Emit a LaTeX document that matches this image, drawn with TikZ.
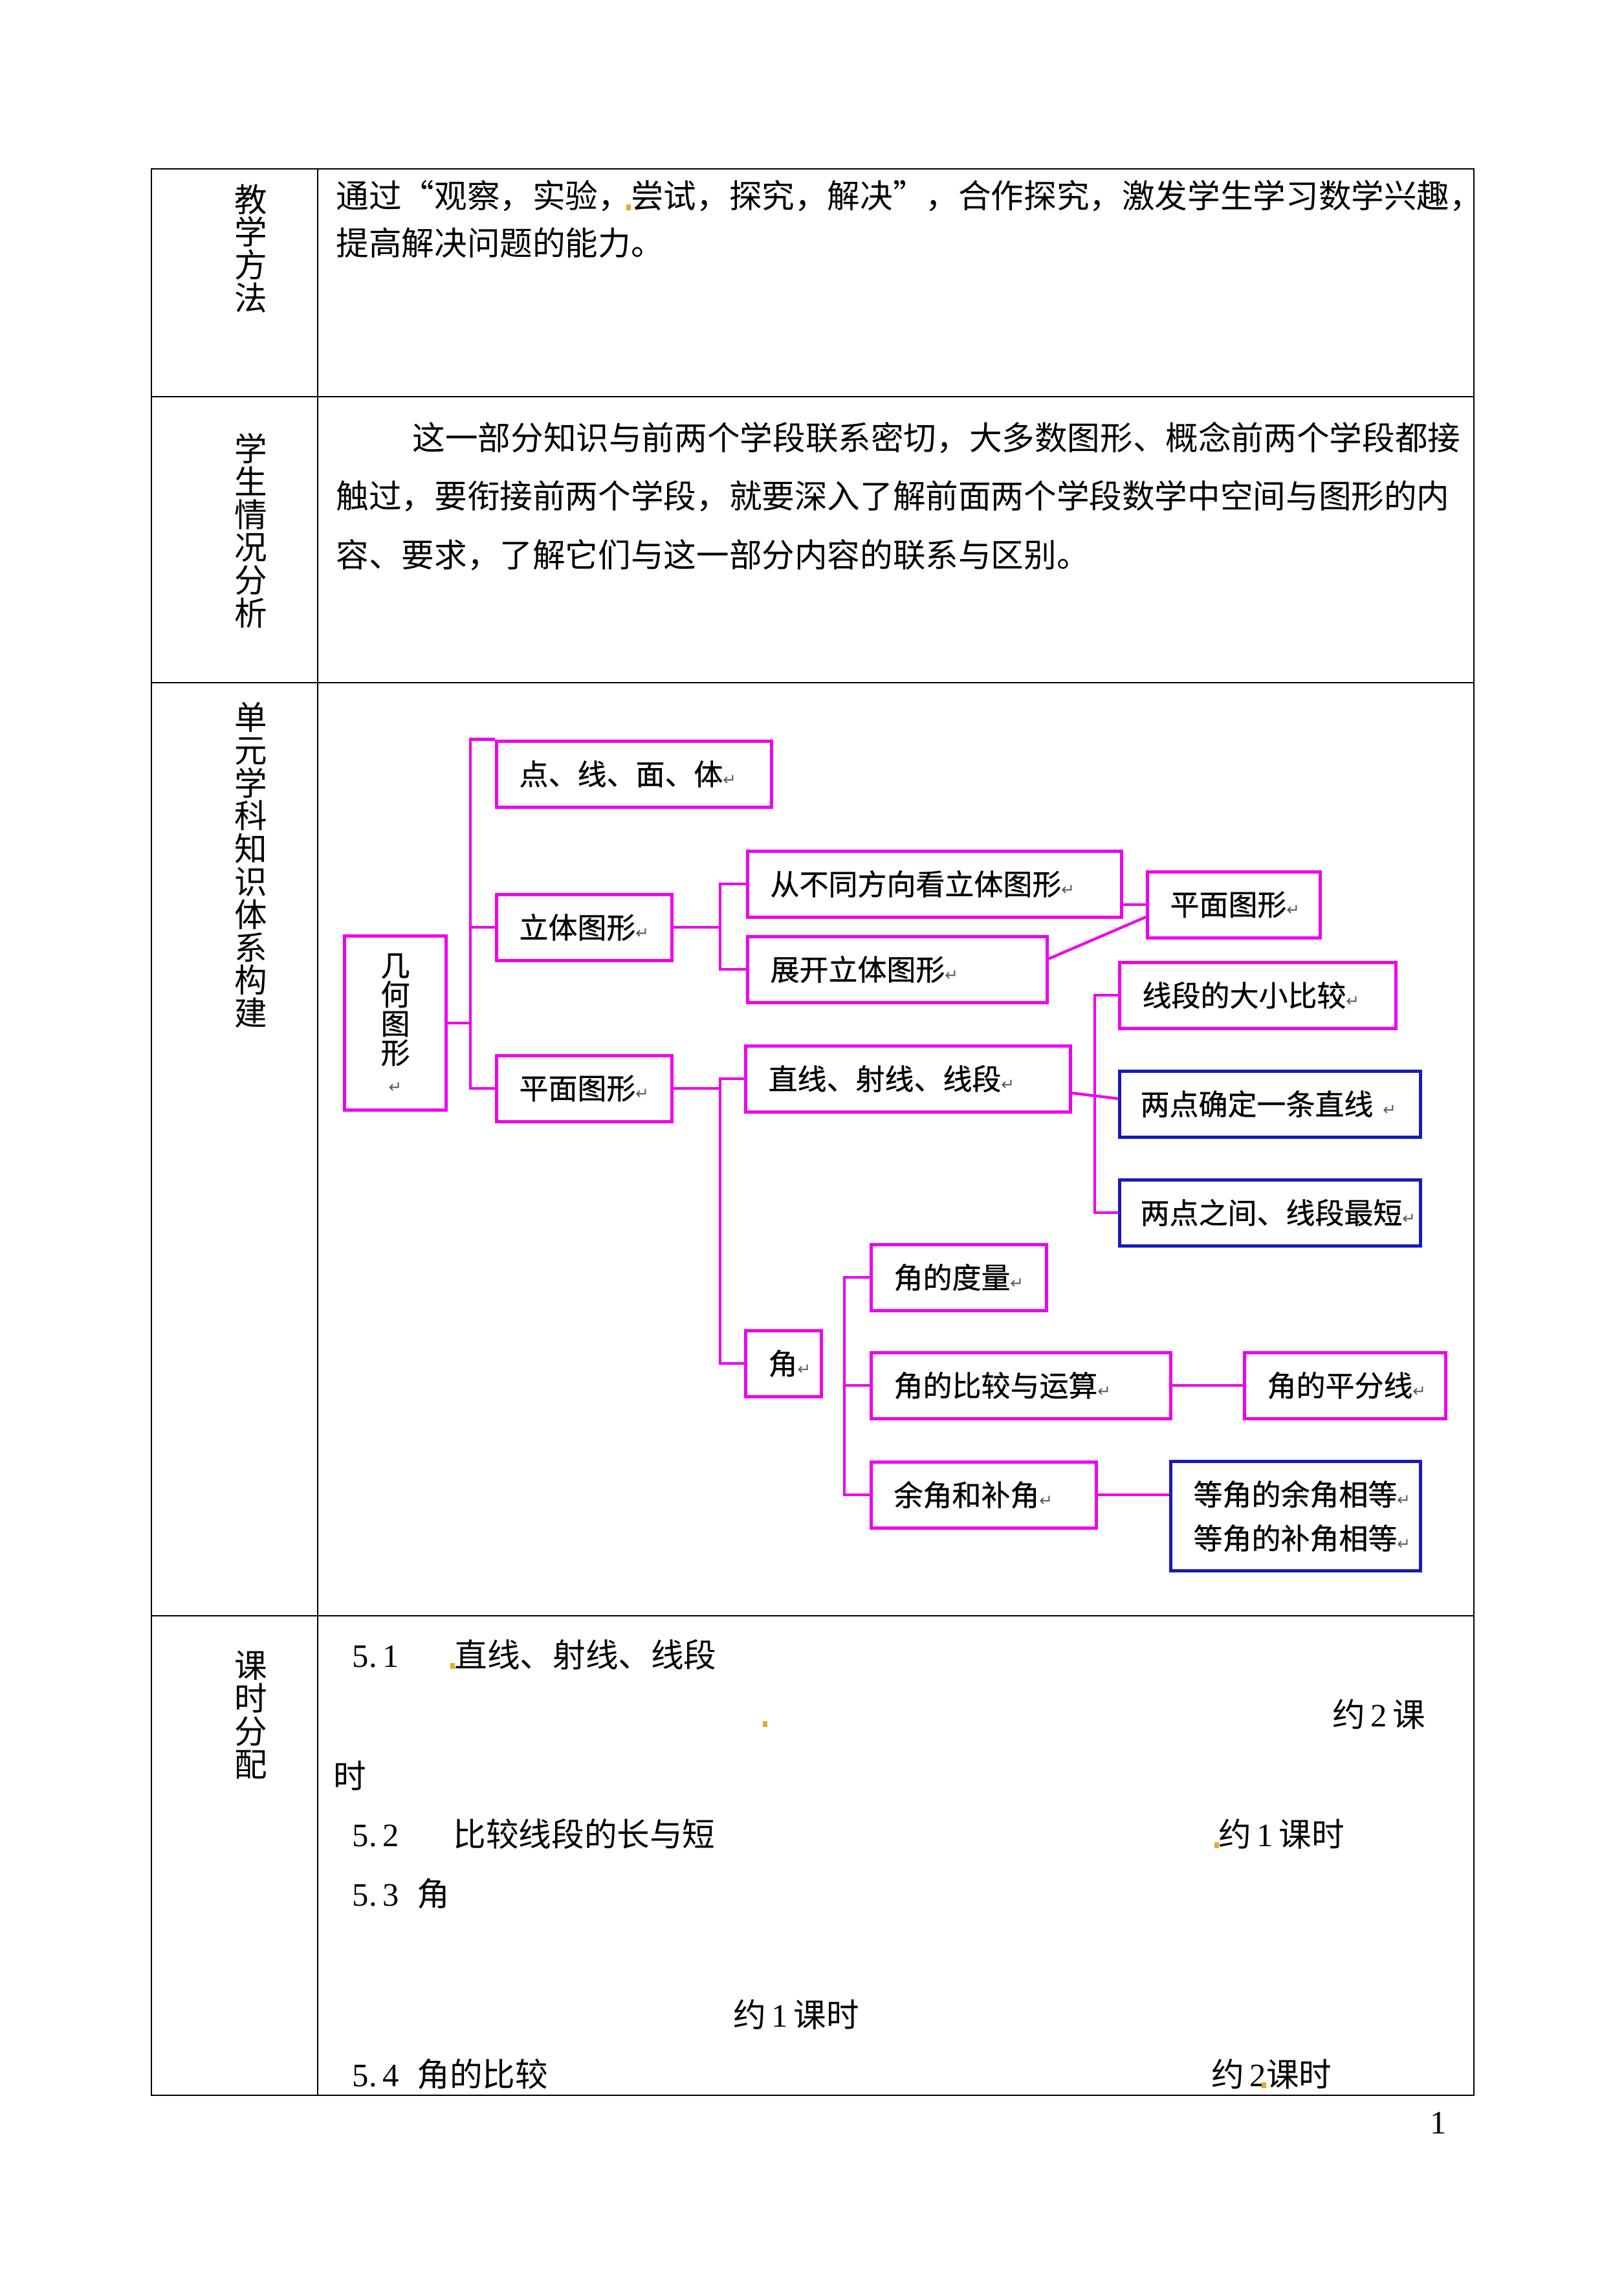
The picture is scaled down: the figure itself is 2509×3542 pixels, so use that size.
\documentclass[tikz,border=0pt]{standalone}
\usepackage{fontspec}
\usepackage{xcolor}
\usepackage{tikz}
\usetikzlibrary{calc}
\setmainfont{Noto Sans CJK SC}
\newfontfamily\numfont{Liberation Serif}
\newfontfamily\markfont{DejaVu Sans}
\newfontfamily\boxcjk[FakeBold=0.6]{Noto Sans CJK SC}

\definecolor{mag}{RGB}{238,0,238}
\definecolor{bluebox}{RGB}{25,25,190}
\definecolor{anchorc}{RGB}{230,170,40}

\newcommand\bodyfont{\fontsize{14.4pt}{20pt}\selectfont}
\newcommand\sidefont{\fontsize{14.4pt}{14.45pt}\selectfont}
\newcommand\boxfont{\boxcjk\fontsize{12.8pt}{19.3pt}\selectfont}
\newcommand\retmark{{\markfont\fontsize{7pt}{7pt}\selectfont\textcolor{black!65}{↵}}}
\newcommand\anch{\llap{\textcolor{anchorc}{\rule[-0.3mm]{0.7mm}{0.9mm}}}}
\newcommand\dg[1]{{\numfont #1}}
\newcommand\qopen{\makebox[1em][r]{“}}
\newcommand\qclose{\makebox[1em][l]{”}}

\begin{document}
\begin{tikzpicture}[x=0.1mm, y=-0.1mm,
            every node/.style={inner sep=0pt, font=\bodyfont},
            kbox/.style={draw=mag, line width=0.5mm, minimum height=10.2mm,
                inner xsep=3.5mm, inner ysep=0pt, anchor=west, align=left, font=\boxfont},
            bbox/.style={kbox, draw=bluebox},
            kline/.style={draw=mag, line width=0.42mm},
            grid/.style={line width=0.8pt},
            side/.style={align=center, font=\sidefont}]
            \fill[white] (0,0) rectangle (2509,3542);
            \useasboundingbox (0,0) rectangle (2509,3542);

            % 表格
            \draw[grid] (234,261) rectangle (2278,3238);
            \draw[grid] (491,261) -- (491,3238);
            \foreach \y in {613,1055,2497}
                \draw[grid] (234,\y) -- (2278,\y);

            % 左栏
            \node[side] (jxff) at (388,384) {教\\学\\方\\法};
            \node[side] (xsqk) at (388,820) {学\\生\\情\\况\\分\\析};
            \node[side] (dyxk) at (388,1337) {单\\元\\学\\科\\知\\识\\体\\系\\构\\建};
            \node[side] (kshf) at (388,2650) {课\\时\\分\\配};

            % 教学方法
            \node[anchor=west] (ff1) at (519,303) {通过\qopen 观察，实验，\anch 尝试，探究，解决\qclose ，合作探究，激发学生学习数学兴趣，};
            \node[anchor=west] (ff2) at (519,375) {提高解决问题的能力。};

            % 学生情况分析
            \node[anchor=west] (qk1) at (637,677) {这一部分知识与前两个学段联系密切，大多数图形、概念前两个学段都接};
            \node[anchor=west] (qk2) at (519,767) {触过，要衔接前两个学段，就要深入了解前面两个学段数学中空间与图形的内};
            \node[anchor=west] (qk3) at (519,858) {容、要求，了解它们与这一部分内容的联系与区别。};

            % 知识体系
            \node[kbox, text width=35.5mm] (dxmt) at (765,1196) {点、线、面、体\retmark};
            \node[kbox, text width=20.1mm] (ltx) at (765,1433) {立体图形\retmark};
            \node[kbox, text width=20.1mm] (pmtx) at (765,1682) {平面图形\retmark};
            \node[kbox, minimum width=15.7mm, minimum height=26.9mm, inner xsep=0pt,
                  align=center, anchor=center, font=\boxcjk\fontsize{12.8pt}{12.8pt}\selectfont]
                  (jhtx) at (611,1581) {几\\何\\图\\形\\\retmark};
            \node[kbox, text width=50.8mm] (cbt) at (1153,1366) {从不同方向看立体图形\retmark};
            \node[kbox, text width=39.3mm] (zk) at (1153,1498) {展开立体图形\retmark};
            \node[kbox, text width=19.7mm] (pmr) at (1771,1398) {平面图形\retmark};
            \node[kbox, text width=35.7mm] (xd) at (1728,1538) {线段的大小比较\retmark};
            \node[kbox, text width=43.2mm] (zx) at (1150,1667) {直线、射线、线段\retmark};
            \node[bbox, text width=40.1mm, inner xsep=3.2mm] (ld) at (1728,1706) {\mbox{两点确定一条直线 \retmark}};
            \node[bbox, text width=40.1mm, inner xsep=3.2mm] (lj) at (1728,1874) {\mbox{两点之间、线段最短\retmark}};
            \node[kbox, text width=4.7mm] (jiao) at (1150,2107) {角\retmark};
            \node[kbox, text width=20.1mm] (jd) at (1344,1974) {角的度量\retmark};
            \node[kbox, text width=39.3mm] (jb) at (1344,2141) {角的比较与运算\retmark};
            \node[kbox, text width=24.1mm] (jp) at (1921,2141) {角的平分线\retmark};
            \node[kbox, text width=27.8mm] (yj) at (1344,2310) {余角和补角\retmark};
            \node[bbox, text width=31.6mm, minimum height=16.9mm] (dj) at (1807,2343)
                  {等角的余角相等\retmark\\等角的补角相等\retmark};

            % 连线
            \coordinate (t1) at (727,0);
            \coordinate (t2) at (1113,0);
            \coordinate (t4) at (1692,0);
            \coordinate (t5) at (1305,0);
            \draw[kline] (dxmt.north west) -- (dxmt.north west -| t1) -- (pmtx.west -| t1) -- (pmtx.west);
            \draw[kline] (ltx.west) -- (ltx.west -| t1);
            \draw[kline] (jhtx.east) -- (jhtx.east -| t1);
            \draw[kline] (ltx.east) -- (ltx.east -| t2);
            \draw[kline] (cbt.west) -- (cbt.west -| t2) -- (zk.west -| t2) -- (zk.west);
            \draw[kline] (pmtx.east) -- (pmtx.east -| t2);
            \draw[kline] (zx.west) -- (zx.west -| t2) -- (jiao.west -| t2) -- (jiao.west);
            \draw[kline] (pmr.west -| cbt.east) -- (pmr.west);
            \draw[kline] (zk.4) -- (pmr.188);
            \draw[kline] (zx.-5) -- (ld.178);
            \draw[kline] (xd.west) -- (xd.west -| t4) -- (lj.west -| t4) -- (lj.west);
            \draw[kline] (jd.west) -- (jd.west -| t5) -- (yj.west -| t5) -- (yj.west);
            \draw[kline] (jb.west) -- (jb.west -| t5);
            \draw[kline] (jb.east) -- (jp.west);
            \draw[kline] (yj.east) -- (yj.east -| dj.west);

            % 课时分配
            \node[anchor=west] (k1) at (544,2557) {\makebox[15.8mm][l]{\dg{5.\,1}}\anch 直线、射线、线段};
            \node[anchor=west] (k1t) at (2059,2649) {约\,\dg{2}\,课};
            \node[anchor=west] (k1m) at (1184,2664) {\anch};
            \node[anchor=west] (k1s) at (515,2744) {时};
            \node[anchor=west] (k2) at (544,2834) {\makebox[15.6mm][l]{\dg{5.\,2}}比较线段的长与短};
            \node[anchor=west] (k2t) at (1883,2834) {\anch 约\,\dg{1}\,课时};
            \node[anchor=west] (k3) at (544,2926) {\makebox[10mm][l]{\dg{5.\,3}}角};
            \node[anchor=west] (k3t) at (1133,3113) {约\,\dg{1}\,课时};
            \node[anchor=west] (k4) at (544,3205) {\makebox[10mm][l]{\dg{5.\,4}}角的比较};
            \node[anchor=west] (k4t) at (1872,3205) {约\,\dg{2}\anch 课时};
            \node (pgno) at (2223,3281) {\dg{1}};
        \end{tikzpicture}
\end{document}
